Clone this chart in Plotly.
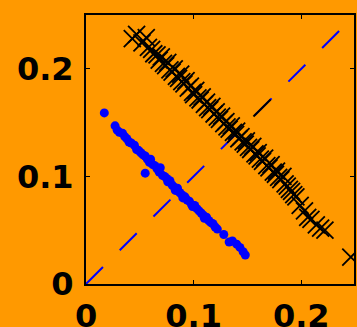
import plotly.graph_objects as go

# Blue series (circles)
blue_x = [0.017, 0.027, 0.029, 0.031, 0.034, 0.036, 0.038, 0.040, 0.042, 0.045,
          0.047, 0.049, 0.051, 0.053, 0.055, 0.055, 0.057, 0.059, 0.060, 0.062,
          0.064, 0.066, 0.068, 0.069, 0.071, 0.073, 0.075, 0.076, 0.078, 0.080,
          0.082, 0.083, 0.085, 0.087, 0.089, 0.090, 0.092, 0.094, 0.096, 0.098,
          0.099, 0.101, 0.103, 0.105, 0.107, 0.109, 0.110, 0.112, 0.114, 0.116,
          0.118, 0.120, 0.122, 0.128, 0.133, 0.136, 0.140, 0.143, 0.146, 0.148]
blue_y = [0.159, 0.147, 0.143, 0.141, 0.140, 0.137, 0.135, 0.132, 0.131, 0.129,
          0.125, 0.124, 0.122, 0.120, 0.119, 0.103, 0.116, 0.113, 0.116, 0.111,
          0.110, 0.107, 0.104, 0.108, 0.101, 0.100, 0.098, 0.095, 0.096, 0.092,
          0.090, 0.087, 0.089, 0.085, 0.083, 0.080, 0.081, 0.078, 0.077, 0.074,
          0.072, 0.073, 0.070, 0.068, 0.066, 0.064, 0.061, 0.062, 0.059, 0.057,
          0.056, 0.053, 0.051, 0.046, 0.039, 0.040, 0.037, 0.034, 0.030, 0.027]

# Black series (crosses)
black_x = [0.043, 0.047, 0.052, 0.056, 0.058, 0.061, 0.063, 0.066, 0.068, 0.070,
           0.072, 0.074, 0.076, 0.078, 0.080, 0.082, 0.084, 0.086, 0.088, 0.089,
           0.091, 0.093, 0.095, 0.097, 0.099, 0.100, 0.102, 0.104, 0.106, 0.108,
           0.110, 0.112, 0.113, 0.115, 0.117, 0.119, 0.121, 0.122, 0.124, 0.126,
           0.128, 0.130, 0.131, 0.133, 0.135, 0.137, 0.139, 0.140, 0.142, 0.144,
           0.146, 0.148, 0.149, 0.151, 0.153, 0.155, 0.157, 0.159, 0.160, 0.162,
           0.164, 0.166, 0.168, 0.170, 0.172, 0.174, 0.176, 0.177, 0.179, 0.181,
           0.183, 0.185, 0.187, 0.189, 0.191, 0.193, 0.195, 0.199, 0.203, 0.206,
           0.209, 0.214, 0.218, 0.222, 0.246]
black_y = [0.228, 0.232, 0.224, 0.229, 0.220, 0.218, 0.214, 0.213, 0.208, 0.211,
           0.205, 0.203, 0.206, 0.199, 0.197, 0.200, 0.193, 0.191, 0.195, 0.188,
           0.186, 0.189, 0.182, 0.184, 0.178, 0.176, 0.180, 0.173, 0.171, 0.174,
           0.167, 0.169, 0.164, 0.162, 0.165, 0.158, 0.160, 0.155, 0.153, 0.156,
           0.149, 0.151, 0.146, 0.144, 0.147, 0.141, 0.139, 0.142, 0.135, 0.137,
           0.132, 0.130, 0.133, 0.127, 0.125, 0.128, 0.121, 0.119, 0.122, 0.116,
           0.114, 0.117, 0.110, 0.108, 0.111, 0.104, 0.102, 0.105, 0.099, 0.097,
           0.100, 0.093, 0.091, 0.088, 0.086, 0.083, 0.081, 0.073, 0.068, 0.062,
           0.060, 0.055, 0.052, 0.050, 0.025]

# Identity reference line
ref_x = [0.0, 0.25]
ref_y = [0.0, 0.25]
ref_black_x = [0.1556, 0.1715]
ref_black_y = [0.1556, 0.1715]

tick_vals = [0, 0.1, 0.2]
tick_text = ["0", "0.1", "0.2"]

BG = "#ff9900"
DASH = "24px,23.7px"

fig = go.Figure()
fig.add_trace(go.Scatter(x=ref_x, y=ref_y, mode="lines",
                         line=dict(color="#0000ff", width=2, dash=DASH),
                         hoverinfo="skip"))
fig.add_trace(go.Scatter(x=ref_black_x, y=ref_black_y, mode="lines",
                         line=dict(color="black", width=2),
                         hoverinfo="skip"))
fig.add_trace(go.Scatter(x=blue_x, y=blue_y, mode="markers",
                         marker=dict(symbol="circle", size=9, color="#0000ff",
                                     line=dict(width=0))))
fig.add_trace(go.Scatter(x=black_x, y=black_y, mode="markers",
                         marker=dict(symbol="x-thin", size=17,
                                     line=dict(color="black", width=1.8))))

axis_common = dict(
    showgrid=False, zeroline=False, showline=True, linecolor="black",
    linewidth=2, mirror="ticks", ticks="inside", ticklen=4, tickwidth=1,
    tickcolor="black", tickvals=tick_vals, ticktext=tick_text, automargin=False,
    tickfont=dict(family="DejaVu Sans", size=32, color="black", weight="bold"),
)
fig.update_xaxes(range=[0, 0.249], ticklabelstandoff=3, **axis_common)
fig.update_yaxes(range=[0, 0.25], ticklabelstandoff=4, **axis_common)

fig.update_layout(
    width=357, height=327,
    margin=dict(l=86, r=3, t=15, b=43, pad=0),
    paper_bgcolor=BG, plot_bgcolor=BG,
    showlegend=False,
)

fig.write_html("out.html")
